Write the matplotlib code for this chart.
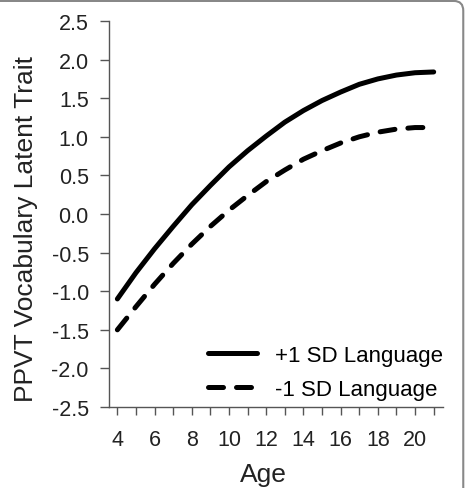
import matplotlib.pyplot as plt
from matplotlib.patches import FancyBboxPatch

plt.rcParams["font.family"] = ["Liberation Sans", "DejaVu Sans"]

# valores (edad 4..21)
edad = [4, 5, 6, 7, 8, 9, 10, 11, 12, 13, 14, 15, 16, 17, 18, 19, 20, 21]
alto = [-1.10, -0.76, -0.45, -0.16, 0.12, 0.37, 0.61, 0.82, 1.01, 1.19, 1.34,
        1.47, 1.58, 1.68, 1.75, 1.80, 1.83, 1.84]
bajo = [-1.50, -1.20, -0.91, -0.64, -0.39, -0.16, 0.05, 0.24, 0.42, 0.57, 0.71,
        0.82, 0.92, 1.00, 1.06, 1.10, 1.12, 1.12]

xticks_lbl = [4, 6, 8, 10, 12, 14, 16, 18, 20]
yticks = [-2.5, -2.0, -1.5, -1.0, -0.5, 0.0, 0.5, 1.0, 1.5, 2.0, 2.5]

fig = plt.figure(figsize=(4.67, 4.89), dpi=100)
ax = fig.add_axes([0.2334, 0.1656, 0.7152, 0.7894])

ax.plot(edad, alto, color="black", lw=3.6, solid_capstyle="round", solid_joinstyle="round",
        label="+1 SD Language")
ax.plot(edad, bajo, color="black", lw=3.6, dashes=(3.0, 2.6), dash_capstyle="round",
        dash_joinstyle="round", label="-1 SD Language")

ax.set_xlim(3.55, 21.5)
ax.set_ylim(-2.5, 2.5)
ax.set_xticks(range(4, 22))
ax.set_xticklabels([str(v) if v in xticks_lbl else "" for v in range(4, 22)])
ax.set_yticks(yticks)
ax.set_yticklabels([f"{v:.1f}" for v in yticks])

for s in ["top", "right"]:
    ax.spines[s].set_visible(False)
for s in ["left", "bottom"]:
    ax.spines[s].set_color("#555555")
    ax.spines[s].set_linewidth(1.0)

ax.tick_params(axis="x", length=6, width=1.0, color="#555555", pad=10, labelsize=15.5, labelcolor="#222222")
ax.tick_params(axis="y", length=6.5, width=1.0, color="#555555", pad=8, labelsize=15.5, labelcolor="#222222")

ax.set_xlabel("Age", fontsize=19, color="#222222", va="center")
ax.xaxis.set_label_coords(0.461, -0.1736)
ax.set_ylabel("PPVT Vocabulary Latent Trait", fontsize=19, color="#222222", va="center")
ax.yaxis.set_label_coords(-0.2485, 0.4637)

ax.legend(loc="lower right", bbox_to_anchor=(1.0, 0.018), frameon=False, fontsize=16,
          handlelength=2.2, handletextpad=0.8, labelspacing=0.6, borderpad=0, borderaxespad=0)

# marco redondeado de la figura
marco = FancyBboxPatch((-0.05, -0.05), 1.042, 1.046, boxstyle="round,pad=0,rounding_size=0.02",
                       transform=fig.transFigure, fill=False, edgecolor="#888888", lw=1.5)
fig.patches.append(marco)

plt.savefig("out.png", dpi=100)
